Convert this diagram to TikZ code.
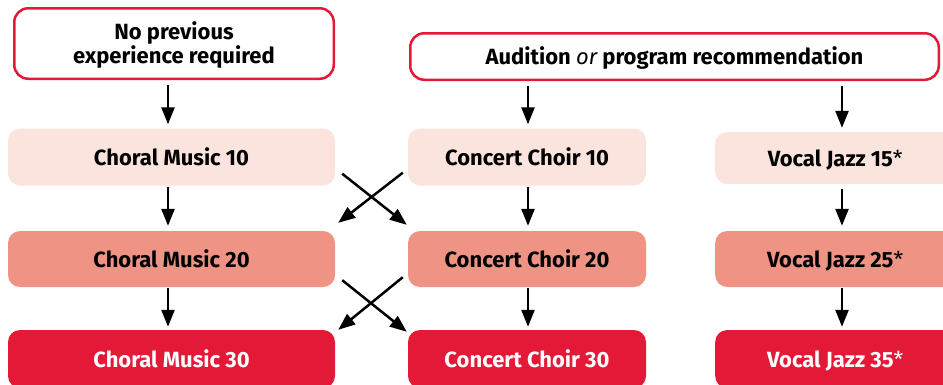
\documentclass[tikz,border=0pt]{standalone}
\usepackage{fontspec}
\setmainfont{Fira Sans}
\usetikzlibrary{arrows.meta,calc}

\definecolor{brandred}{HTML}{E31937}
\definecolor{levelone}{HTML}{FCE4DE}
\definecolor{leveltwo}{HTML}{EF9485}
\definecolor{levelthree}{HTML}{E31937}

% footnote marker set in the regular weight
\newcommand{\jazzmark}{{\normalfont *}}
% invisible strut that lowers a line a little inside its box
\newcommand{\lowerstrut}{\rule{0pt}{20.5pt}}

\tikzset{
  entry/.style={rectangle, rounded corners=12pt, draw=none, inner sep=0pt,
    align=center, font=\bfseries\fontsize{22}{24.5}\selectfont},
  gate/.style={entry, draw=brandred, line width=2.5pt, fill=white, rounded corners=14pt},
  lvlone/.style={entry, fill=levelone, text=black},
  lvltwo/.style={entry, fill=leveltwo, text=black},
  lvlthree/.style={entry, fill=levelthree, text=white},
  arr/.style={-{Triangle[length=17pt,width=13pt]}, line width=2.5pt, black}
}

\begin{document}
\begin{tikzpicture}[x=1pt, y=-1pt]
  \useasboundingbox (0,0) rectangle (943,384);
  \clip (0,0) rectangle (943,384);

  % entry requirements
  \node[gate, minimum width=319.5pt, minimum height=70.5pt] (top1) at (174,43.5)
    {\lowerstrut No previous\\experience required};
  \node[gate, minimum width=528.5pt, minimum height=46.5pt] (top2) at (674.5,56.5)
    {\lowerstrut Audition {\normalfont\itshape or} program recommendation};

  % choral music column
  \node[lvlone,   minimum width=327pt, minimum height=57pt] (cm10) at (171.5,157) {Choral Music 10};
  \node[lvltwo,   minimum width=327pt, minimum height=56pt] (cm20) at (171.5,259) {Choral Music 20};
  \node[lvlthree, minimum width=327pt, minimum height=58pt] (cm30) at (171.5,359) {Choral Music 30};

  % concert choir column
  \node[lvlone,   minimum width=238pt, minimum height=57pt] (cc10) at (527,157) {Concert Choir 10};
  \node[lvltwo,   minimum width=238pt, minimum height=56pt] (cc20) at (527,259) {Concert Choir 20};
  \node[lvlthree, minimum width=238pt, minimum height=58pt] (cc30) at (527,359) {Concert Choir 30};

  % vocal jazz column
  \node[lvlone,   minimum width=260pt, minimum height=52pt, anchor=west] (vj15) at (715,158)
    {\hspace*{-20pt}\lowerstrut Vocal Jazz 15\jazzmark};
  \node[lvltwo,   minimum width=260pt, minimum height=56pt, anchor=west] (vj25) at (715,259)
    {\hspace*{-20pt}\lowerstrut Vocal Jazz 25\jazzmark};
  \node[lvlthree, minimum width=260pt, minimum height=58pt, anchor=west] (vj35) at (715,359)
    {\hspace*{-20pt}\lowerstrut Vocal Jazz 35\jazzmark};

  % arrow columns
  \coordinate (c1) at (168,0);
  \coordinate (c2) at (528,0);
  \coordinate (c3) at (842,0);

  % vertical progressions
  \draw[arr, shorten <=5pt, shorten >=4pt] (top1.south -| c1) -- (cm10.north -| c1);
  \draw[arr, shorten <=5pt, shorten >=4pt] (top2.south -| c2) -- (cc10.north -| c2);
  \draw[arr, shorten <=5pt, shorten >=4pt] (top2.south -| c3) -- (vj15.north -| c3);

  \draw[arr, shorten <=1pt, shorten >=5pt] (cm10.south -| c1) -- (cm20.north -| c1);
  \draw[arr, shorten <=1pt, shorten >=5pt] (cc10.south -| c2) -- (cc20.north -| c2);
  \draw[arr, shorten <=5pt, shorten >=5pt] (vj15.south -| c3) -- (vj25.north -| c3);

  \draw[arr, shorten <=1pt, shorten >=3pt] (cm20.south -| c1) -- (cm30.north -| c1);
  \draw[arr, shorten <=1pt, shorten >=3pt] (cc20.south -| c2) -- (cc30.north -| c2);
  \draw[arr, shorten <=1pt, shorten >=3pt] (vj25.south -| c3) -- (vj35.north -| c3);

  % crossovers between choral music and concert choir
  \draw[arr] ($(cm10.south east)+(7,-12)$) -- ($(cc20.north west)+(-1,-6)$);
  \draw[arr] ($(cc10.south west)+(-5,-13)$) -- ($(cm20.north east)+(3,-8)$);
  \draw[arr] ($(cm20.south east)+(7,-7)$) -- ($(cc30.north west)+(-1,2)$);
  \draw[arr] ($(cc20.south west)+(-5,-10)$) -- ($(cm30.north east)+(3,0)$);
\end{tikzpicture}
\end{document}
